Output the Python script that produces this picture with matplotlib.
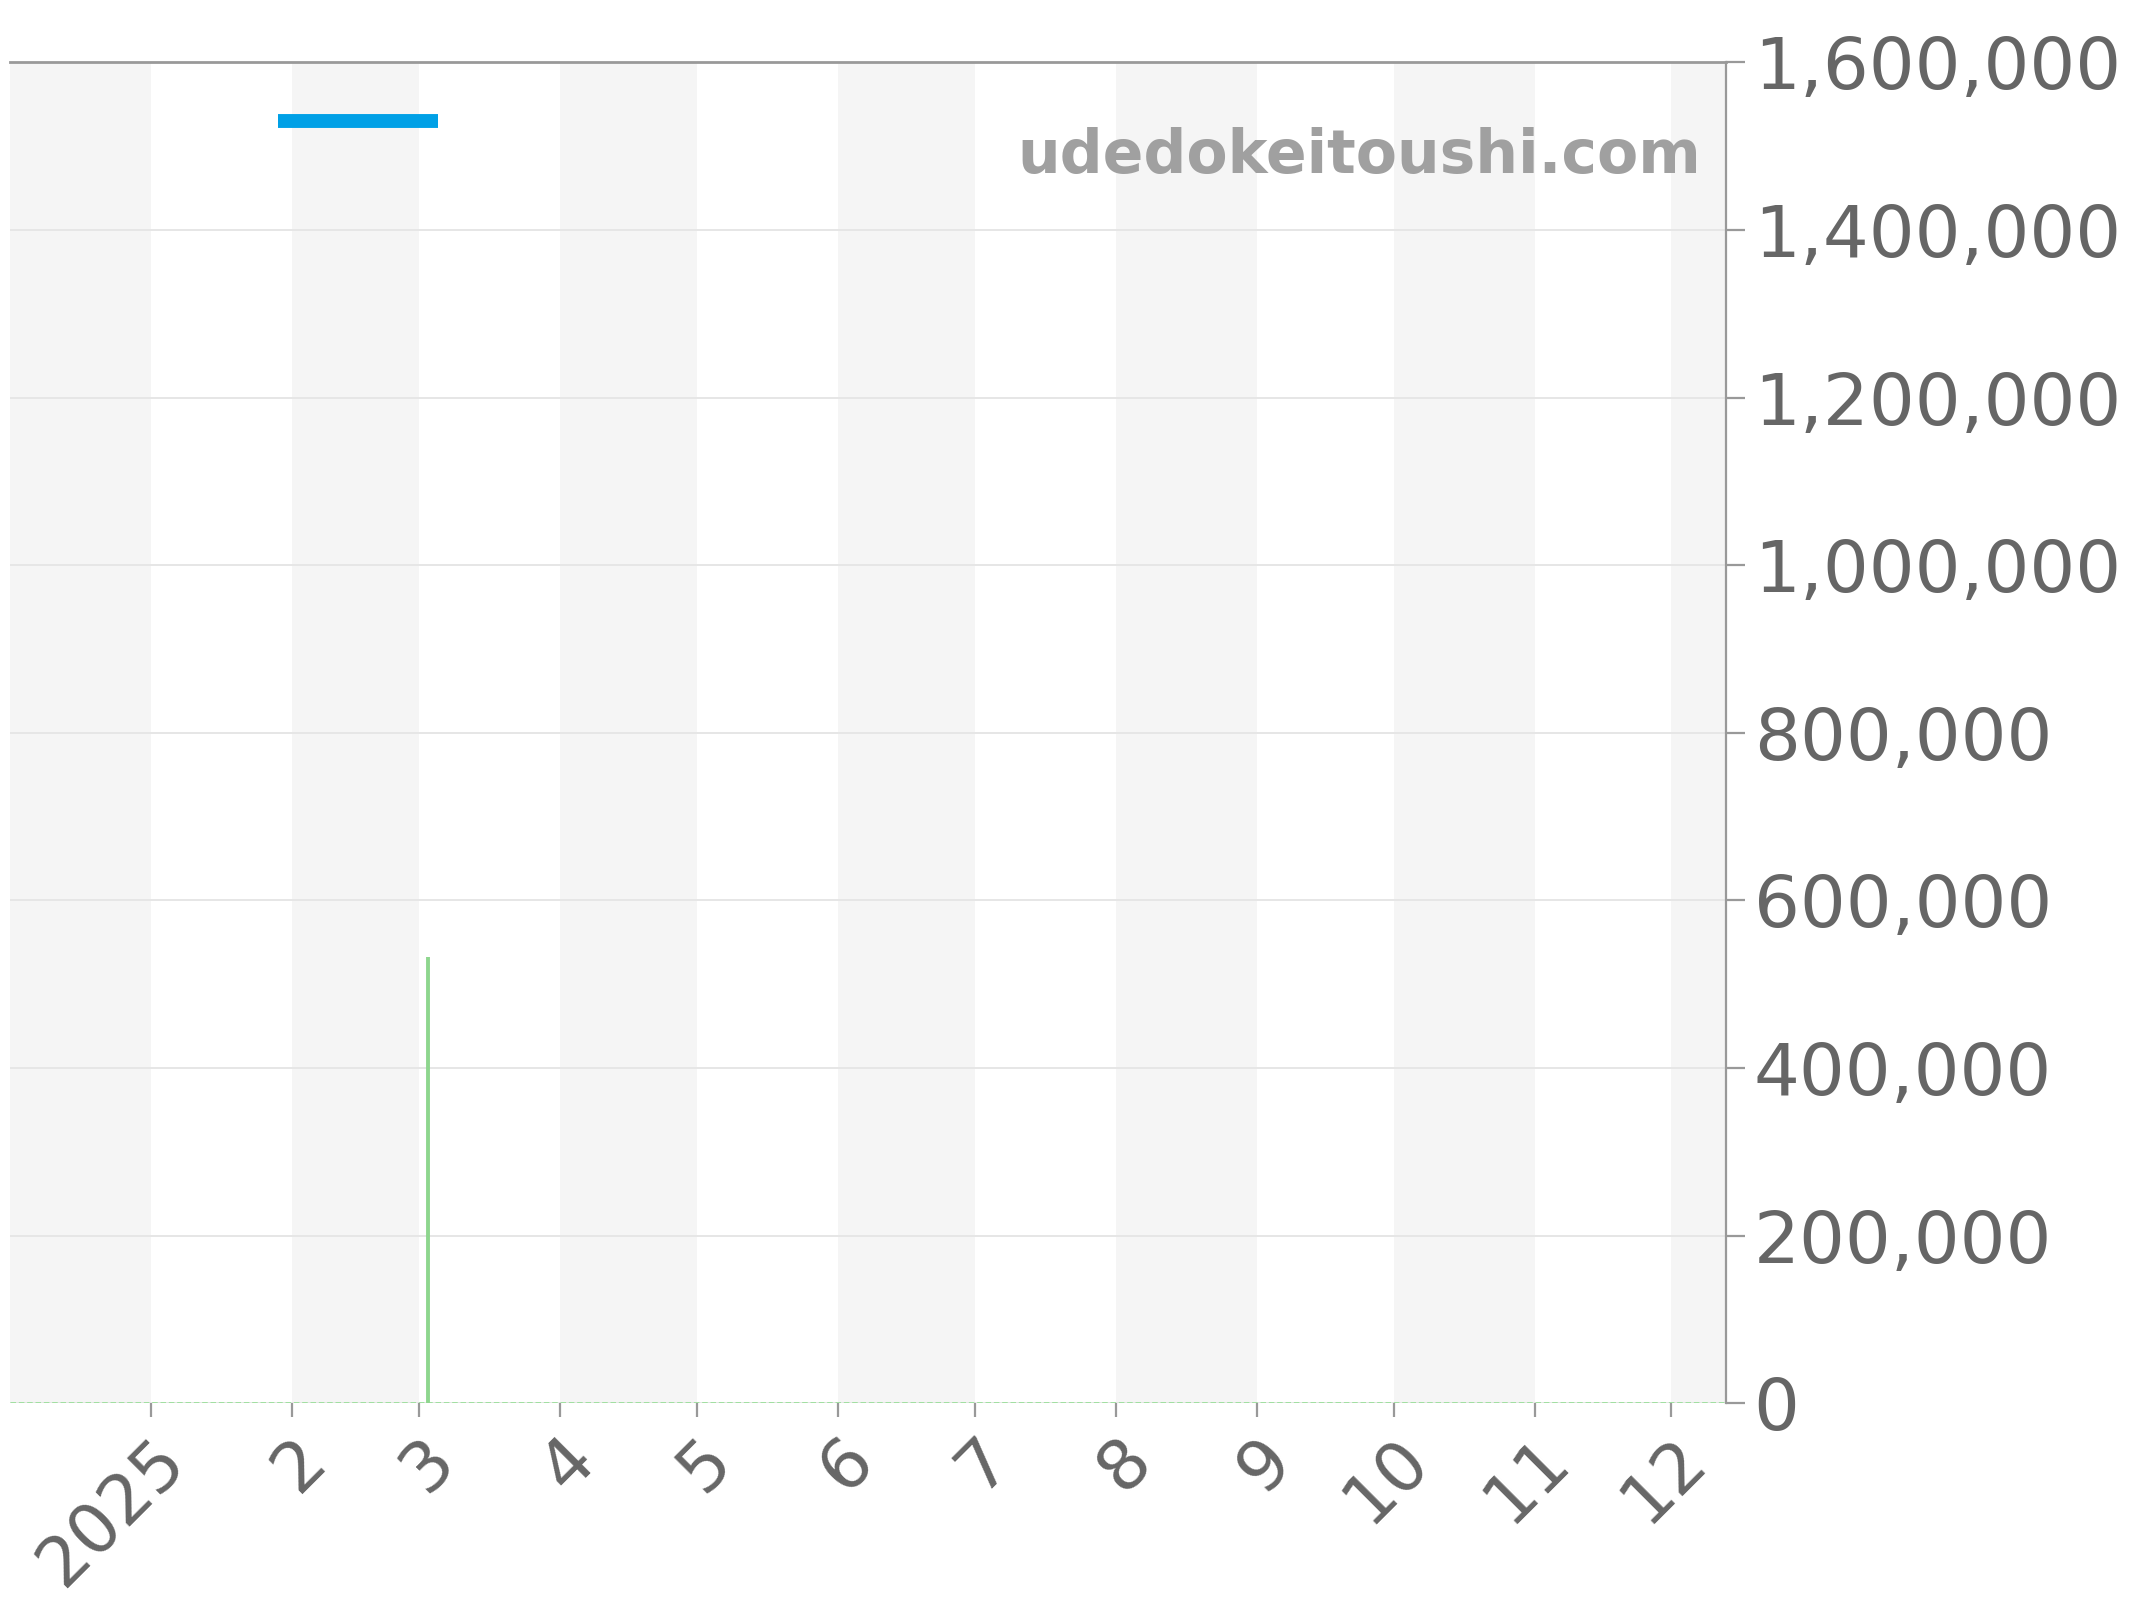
import matplotlib
matplotlib.use("Agg")
import matplotlib.pyplot as plt
from matplotlib.ticker import FuncFormatter, MultipleLocator
import datetime as dt

# ---- data ----
x_start = dt.date(2024, 12, 1)
x_end = dt.date(2025, 12, 13)

price_dates = [dt.date(2025, 1, 29), dt.date(2025, 3, 5)]
price_values = [1530000, 1530000]

volume_dates = [dt.date(2025, 3, 3)]
volume_values = [532000]

month_starts = [dt.date(2025, m, 1) for m in range(1, 13)]
month_labels = ["2025", "2", "3", "4", "5", "6", "7", "8", "9", "10", "11", "12"]

y_max = 1600000
y_step = 200000
watermark = "udedokeitoushi.com"

# ---- figure ----
fig = plt.figure(figsize=(10.72, 8.0), dpi=200)
ax = fig.add_axes([0.0045, 0.123, 0.8005, 0.838])

# alternating month bands
bounds = [x_start] + month_starts + [x_end]
for i in range(len(bounds) - 1):
    if i % 2 == 0:
        ax.axvspan(bounds[i], bounds[i + 1], color="#f5f5f5", lw=0, zorder=0)

ax.set_xlim(x_start, x_end)
ax.set_ylim(0, y_max)

ax.yaxis.set_major_locator(MultipleLocator(y_step))
ax.yaxis.grid(True, color="#e6e6e6", lw=0.7, zorder=1)
ax.xaxis.grid(False)

# baseline of volume series
ax.plot([x_start, x_end], [0, 0], color="#9adf9a", lw=1.0, ls=(0, (2, 1)), zorder=3)
ax.vlines(volume_dates, 0, volume_values, color="#8ed68e", lw=1.4, zorder=3)

ax.plot(price_dates, price_values, color="#00a0e6", lw=5.0, solid_capstyle="butt", zorder=4)

# axes styling
ax.yaxis.tick_right()
ax.yaxis.set_label_position("right")
ax.yaxis.set_major_formatter(FuncFormatter(lambda v, p: f"{int(v):,}"))
ax.set_xticks(month_starts)
ax.set_xticklabels(month_labels, rotation=45, ha="right", rotation_mode="anchor")

for side in ["left", "bottom"]:
    ax.spines[side].set_visible(False)
ax.spines["top"].set_color("#999999")
ax.spines["top"].set_linewidth(1.0)
ax.spines["right"].set_color("#999999")
ax.spines["right"].set_linewidth(0.8)

ax.tick_params(axis="y", which="major", labelsize=26, colors="#999999",
               labelcolor="#666666", length=7, width=0.8, pad=3, right=True, left=False)
ax.tick_params(axis="x", which="major", labelsize=25, colors="#999999",
               labelcolor="#666666", length=5, width=0.8, pad=3)

ax.text(0.9855, 0.952, watermark, transform=ax.transAxes, ha="right", va="top",
        fontsize=21.6, fontweight="bold", color="#a0a0a0", zorder=5)

fig.savefig("out.png", dpi=200)
